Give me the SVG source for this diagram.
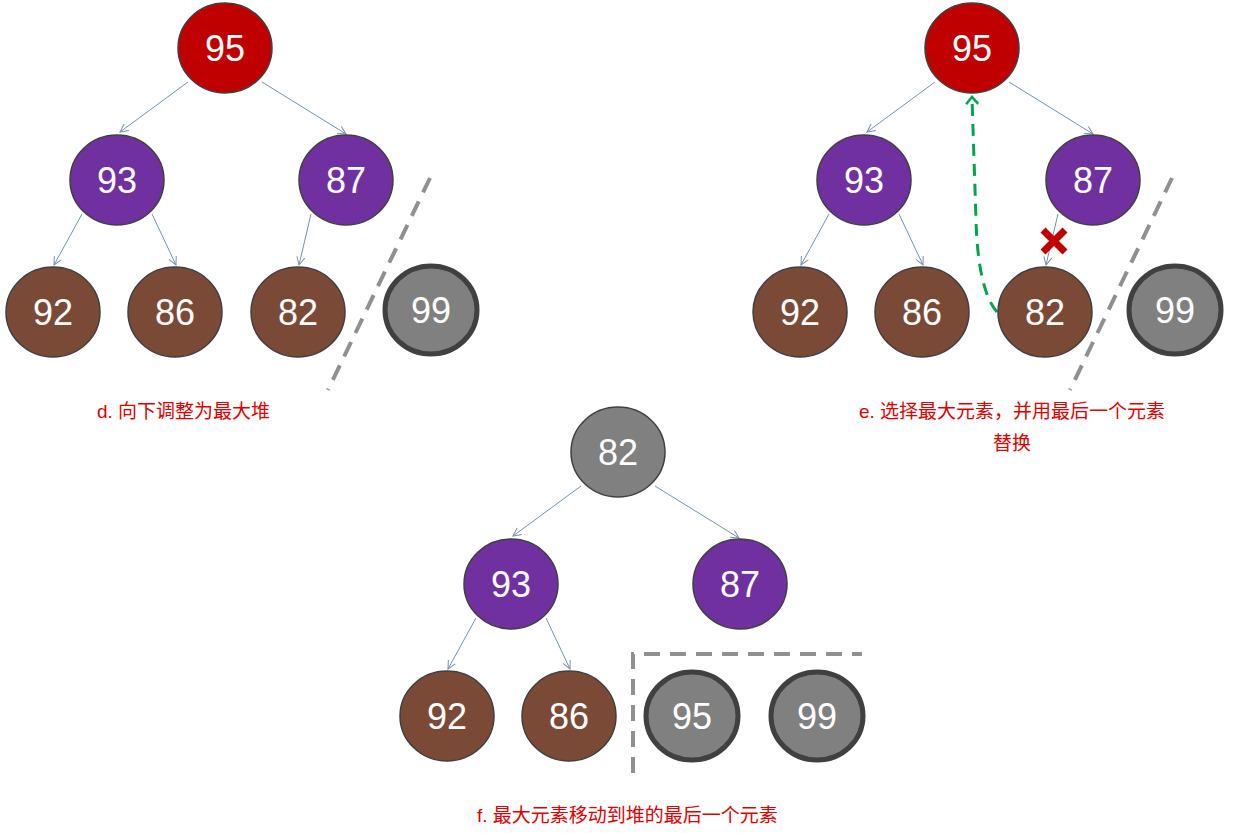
<svg xmlns="http://www.w3.org/2000/svg" width="1238" height="833" viewBox="0 0 1238 833">
<style>
.n{stroke:#404040;stroke-width:1.5}
.red{fill:#C00000}.pur{fill:#7030A0}.br{fill:#7B4A36}.gr{fill:#808080}
.thick{stroke:#404040;stroke-width:5}
.t{font-family:"Liberation Sans",Arial,sans-serif;font-size:36px;fill:#fff;text-anchor:middle;dominant-baseline:central}
.e{stroke:#7292AE;stroke-width:1;fill:none;marker-end:url(#a)}
.dash{stroke:#909090;stroke-width:4;stroke-dasharray:16,10;fill:none}
.cap{font-family:"Liberation Sans","Noto Sans CJK SC",sans-serif;font-size:19px;fill:#E00000}
</style>
<defs>
<marker id="a" markerWidth="12" markerHeight="12" refX="9" refY="5" orient="auto" markerUnits="userSpaceOnUse"><path d="M1,1 L9,5 L1,9" fill="none" stroke="#7292AE" stroke-width="1"/></marker>
<marker id="g" markerWidth="14" markerHeight="14" refX="7" refY="7" orient="auto" markerUnits="userSpaceOnUse"><path d="M1,1 L8,7 L1,13" fill="none" stroke="#00A550" stroke-width="2.5"/></marker>
</defs>
<g id="connectors">
<line class="e" x1="188" y1="82" x2="120" y2="132"/>
<line class="e" x1="262" y1="82" x2="346" y2="134"/>
<line class="e" x1="82" y1="214" x2="54" y2="265"/>
<line class="e" x1="152" y1="214" x2="176" y2="265"/>
<line class="e" x1="311" y1="214" x2="299" y2="265"/>
<line class="e" x1="935" y1="82" x2="867" y2="132"/>
<line class="e" x1="1009" y1="82" x2="1093" y2="134"/>
<line class="e" x1="829" y1="214" x2="801" y2="265"/>
<line class="e" x1="899" y1="214" x2="923" y2="265"/>
<line class="e" x1="1058" y1="214" x2="1046" y2="265"/>
<line class="e" x1="581" y1="486" x2="513" y2="536"/>
<line class="e" x1="655" y1="486" x2="739" y2="538"/>
<line class="e" x1="476" y1="618" x2="448" y2="669"/>
<line class="e" x1="546" y1="618" x2="570" y2="669"/>
<path d="M997,312 Q978,290 976,220 L972,98" fill="none" stroke="#00A550" stroke-width="3" stroke-dasharray="12,8" marker-end="url(#g)"/>
<line class="dash" x1="430" y1="178" x2="328" y2="390"/>
<line class="dash" x1="1172" y1="178" x2="1070" y2="390"/>
<path class="dash" d="M633,773 L633,654 L862,654"/>
</g>
<g id="d95"><ellipse class="n red" cx="225" cy="48" rx="47" ry="45"/><text class="t" x="225" y="48">95</text></g>
<g id="d93"><ellipse class="n pur" cx="117" cy="180" rx="47" ry="45"/><text class="t" x="117" y="180">93</text></g>
<g id="d87"><ellipse class="n pur" cx="346" cy="180" rx="47" ry="45"/><text class="t" x="346" y="180">87</text></g>
<g id="d92"><ellipse class="n br" cx="53" cy="312" rx="47" ry="45"/><text class="t" x="53" y="312">92</text></g>
<g id="d86"><ellipse class="n br" cx="175" cy="312" rx="47" ry="45"/><text class="t" x="175" y="312">86</text></g>
<g id="d82"><ellipse class="n br" cx="298" cy="312" rx="47" ry="45"/><text class="t" x="298" y="312">82</text></g>
<g id="d99"><ellipse class="gr thick" cx="431" cy="310" rx="46" ry="44"/><text class="t" x="431" y="310">99</text></g>
<g id="e95"><ellipse class="n red" cx="972" cy="48" rx="47" ry="45"/><text class="t" x="972" y="48">95</text></g>
<g id="e93"><ellipse class="n pur" cx="864" cy="180" rx="47" ry="45"/><text class="t" x="864" y="180">93</text></g>
<g id="e87"><ellipse class="n pur" cx="1093" cy="180" rx="47" ry="45"/><text class="t" x="1093" y="180">87</text></g>
<g id="e92"><ellipse class="n br" cx="800" cy="312" rx="47" ry="45"/><text class="t" x="800" y="312">92</text></g>
<g id="e86"><ellipse class="n br" cx="922" cy="312" rx="47" ry="45"/><text class="t" x="922" y="312">86</text></g>
<g id="e82"><ellipse class="n br" cx="1045" cy="312" rx="47" ry="45"/><text class="t" x="1045" y="312">82</text></g>
<g id="e99"><ellipse class="gr thick" cx="1175" cy="310" rx="46" ry="44"/><text class="t" x="1175" y="310">99</text></g>
<g id="xmark"><path d="M1043,230 L1065,252 M1065,230 L1043,252" stroke="#C00000" stroke-width="7"/></g>
<g id="f82"><ellipse class="n gr" cx="618" cy="452" rx="47" ry="45"/><text class="t" x="618" y="452">82</text></g>
<g id="f93"><ellipse class="n pur" cx="511" cy="584" rx="47" ry="45"/><text class="t" x="511" y="584">93</text></g>
<g id="f87"><ellipse class="n pur" cx="740" cy="584" rx="47" ry="45"/><text class="t" x="740" y="584">87</text></g>
<g id="f92"><ellipse class="n br" cx="447" cy="716" rx="47" ry="45"/><text class="t" x="447" y="716">92</text></g>
<g id="f86"><ellipse class="n br" cx="569" cy="716" rx="47" ry="45"/><text class="t" x="569" y="716">86</text></g>
<g id="f95"><ellipse class="gr thick" cx="692" cy="716" rx="46" ry="44"/><text class="t" x="692" y="716">95</text></g>
<g id="f99"><ellipse class="gr thick" cx="817" cy="716" rx="46" ry="44"/><text class="t" x="817" y="716">99</text></g>
<g id="captions">
<text class="cap" x="97" y="418">d.  向下调整为最大堆</text>
<text class="cap" x="1012" y="418" text-anchor="middle">e.  选择最大元素，并用最后一个元素</text>
<text class="cap" x="1012" y="450" text-anchor="middle">替换</text>
<text class="cap" x="477" y="822">f.  最大元素移动到堆的最后一个元素</text>
</g>
</svg>
